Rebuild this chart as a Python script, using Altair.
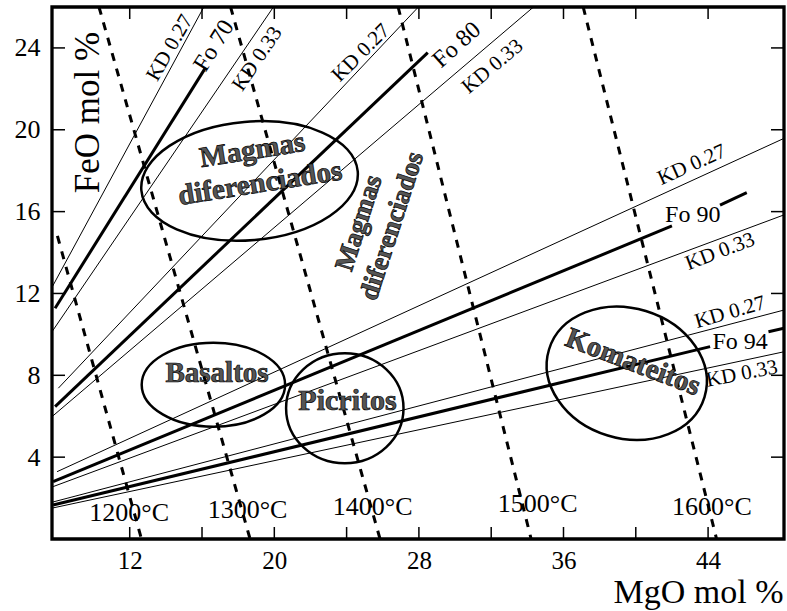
import altair as alt
import pandas as pd

FONT = "Liberation Serif"

# ---- axes ----
X_DOMAIN = [7.7, 48.2]
Y_DOMAIN = [0, 26]
X_LABELS = [12, 20, 28, 36, 44]
X_TICKS = [12, 16, 20, 24, 28, 32, 36, 40, 44]
Y_TICKS = [4, 8, 12, 16, 20, 24]

# ---- olivine lines: Fo isopleths (thick) and KD 0.27 / 0.33 bounds (thin) ----
ln_id = ["fo70_k27", "fo70", "fo70_k33", "fo80_k27", "fo80", "fo80_k33",
         "fo90_k27", "fo90_a", "fo90_b", "fo90_k33",
         "fo94_k27", "fo94_a", "fo94_b", "fo94_k33"]
ln_kind = ["thin", "thick", "thin", "thin", "thick", "thin",
           "thin", "thick", "thick", "thin",
           "thin", "thick", "thick", "thin"]
ln_x1 = [7.70, 7.87, 7.70, 8.05, 7.87, 7.70, 7.98, 7.76, 44.66, 7.76, 7.76, 7.76, 47.34, 7.76]
ln_y1 = [12.30, 11.28, 10.13, 7.37, 6.47, 5.98, 3.29, 2.80, 16.32, 2.56, 1.81, 1.66, 10.13, 1.52]
ln_x2 = [16.10, 16.17, 19.95, 27.97, 28.49, 34.34, 48.20, 42.00, 46.14, 48.20, 48.20, 44.11, 48.20, 48.20]
ln_y2 = [26.00, 23.00, 26.00, 26.00, 23.77, 26.00, 19.58, 15.30, 16.93, 15.84, 11.19, 9.40, 10.30, 9.15]

# ---- isotherms (dashed) ----
iso_id = ["1200", "1300", "1400", "1500", "1600"]
iso_x1 = [8.00, 10.30, 17.58, 26.85, 37.09]
iso_y1 = [14.81, 26.0, 26.0, 26.0, 26.0]
iso_x2 = [12.65, 18.66, 25.85, 34.21, 44.47]
iso_y2 = [0.0, 0.0, 0.0, 0.0, 0.0]

temp_text = ["1200°C", "1300°C", "1400°C", "1500°C", "1600°C"]
temp_x = [11.97, 18.52, 25.44, 34.57, 44.21]
temp_y = [1.27, 1.42, 1.55, 1.71, 1.58]

# ---- line labels ----
kd_text = ["KD 0.27", "KD 0.33", "KD 0.27", "KD 0.33", "KD 0.27", "KD 0.33", "KD 0.27", "KD 0.33"]
kd_x = [14.23, 19.07, 24.80, 32.08, 43.10, 44.67, 45.22, 45.87]
kd_y = [24.00, 23.46, 23.75, 23.08, 18.28, 14.04, 11.07, 8.06]
fo_text = ["Fo 70", "Fo 80", "Fo 90", "Fo 94"]
fo_x = [16.67, 30.10, 43.15, 45.77]
fo_y = [24.10, 24.14, 15.84, 9.64]

# ---- field labels ----
reg_text = ["Magmas", "diferenciados", "Magmas", "diferenciados", "Basaltos", "Picritos", "Komateitos"]
reg_x = [18.78, 19.21, 24.69, 26.52, 16.83, 24.05, 39.85]
reg_y = [19.01, 17.39, 15.44, 15.30, 8.10, 6.75, 8.65]

# ---- fields (ellipse centres) ----
ell_name = ["Magmas diferenciados", "Basaltos", "Picritos", "Komateitos"]
ell_x = [18.63, 16.63, 23.90, 39.50]
ell_y = [17.50, 7.54, 6.39, 8.10]

# styles (orientation / size, not data)
kd_angle = [300, 304, 315, 320, 336, 339, 344, 349]
fo_angle = [302, 318, 0, 0]
reg_angle = [351, 351, 288, 288, 0, 0, 21]
reg_size = [29, 29, 27, 27, 29, 30, 29]
ell_style = [(108.6, 59.2, 355), (71.7, 42.0, 0), (58.7, 55.0, 0), (81.3, 65.1, 17)]

# ---- tables ----
rows = []
for i, n in enumerate(ln_id):
    rows.append({"id": n, "kind": ln_kind[i], "o": 0, "x": ln_x1[i], "y": ln_y1[i]})
    rows.append({"id": n, "kind": ln_kind[i], "o": 1, "x": ln_x2[i], "y": ln_y2[i]})
lines_df = pd.DataFrame(rows)

rows = []
for i, n in enumerate(iso_id):
    rows.append({"id": n, "o": 0, "x": iso_x1[i], "y": iso_y1[i]})
    rows.append({"id": n, "o": 1, "x": iso_x2[i], "y": iso_y2[i]})
iso_df = pd.DataFrame(rows)

temp_df = pd.DataFrame({"t": temp_text, "x": temp_x, "y": temp_y})
kd_df = pd.DataFrame({"t": kd_text, "x": kd_x, "y": kd_y, "a": kd_angle})
fo_df = pd.DataFrame({"t": fo_text, "x": fo_x, "y": fo_y, "a": fo_angle})
reg_df = pd.DataFrame({"t": reg_text, "x": reg_x, "y": reg_y, "a": reg_angle, "s": reg_size})
xt_df = pd.DataFrame({"x": X_TICKS})
yt_df = pd.DataFrame({"y": Y_TICKS})

x_axis = alt.Axis(values=X_LABELS, title="MgO mol %", grid=False, ticks=False, domain=False,
                  labelFont=FONT, labelFontSize=25, labelColor="black", labelPadding=9,
                  labelFlush=False, labelOverlap=False,
                  titleFont=FONT, titleFontSize=34, titleFontWeight="normal", titleColor="black",
                  titleX=731, titleY=63, titleAlign="right", titleBaseline="alphabetic")
y_axis = alt.Axis(values=Y_TICKS, title="FeO mol %", grid=False, ticks=False, domain=False,
                  labelFont=FONT, labelFontSize=26, labelColor="black", labelPadding=12,
                  labelFlush=False, labelOverlap=False,
                  titleFont=FONT, titleFontSize=35, titleFontWeight="normal", titleColor="black",
                  titleAngle=270, titleX=46, titleY=105, titleAlign="center",
                  titleBaseline="alphabetic")

XS = alt.Scale(domain=X_DOMAIN, nice=False, zero=False)
YS = alt.Scale(domain=Y_DOMAIN, nice=False, zero=False)


def X(f="x"):
    return alt.X(f"{f}:Q", scale=XS, axis=x_axis)


def Y(f="y"):
    return alt.Y(f"{f}:Q", scale=YS, axis=y_axis)


thin = alt.Chart(lines_df[lines_df.kind == "thin"]).mark_line(
    color="black", strokeWidth=1, clip=True).encode(x=X(), y=Y(), detail="id:N", order="o:Q")
thick = alt.Chart(lines_df[lines_df.kind == "thick"]).mark_line(
    color="black", strokeWidth=3, clip=True).encode(x=X(), y=Y(), detail="id:N", order="o:Q")
iso = alt.Chart(iso_df).mark_line(
    color="black", strokeWidth=3, strokeDash=[8, 8], clip=True).encode(
    x=X(), y=Y(), detail="id:N", order="o:Q")

W, H, TL = 732, 532, 12
tick_bottom = alt.Chart(xt_df).mark_rule(color="black", strokeWidth=1.5).encode(
    x=X(), y=alt.value(H), y2=alt.value(H - TL))
tick_top = alt.Chart(xt_df).mark_rule(color="black", strokeWidth=1.5).encode(
    x=X(), y=alt.value(0), y2=alt.value(TL))
tick_left = alt.Chart(yt_df).mark_rule(color="black", strokeWidth=1.5).encode(
    y=Y(), x=alt.value(0), x2=alt.value(TL + 1))
tick_right = alt.Chart(yt_df).mark_rule(color="black", strokeWidth=1.5).encode(
    y=Y(), x=alt.value(W), x2=alt.value(W - TL - 1))

ellipses = []
for i, n in enumerate(ell_name):
    a, b, ang = ell_style[i]
    r = b / a
    path = f"M -1 0 A 1 {r:.4f} 0 1 1 1 0 A 1 {r:.4f} 0 1 1 -1 0 Z"
    ellipses.append(
        alt.Chart(pd.DataFrame({"x": [ell_x[i]], "y": [ell_y[i]]})).mark_point(
            shape=path, size=(2 * a) ** 2, angle=ang, filled=False, color="black",
            strokeWidth=2.5, opacity=1).encode(x=X(), y=Y()))

temp_lbl = alt.Chart(temp_df).mark_text(
    font=FONT, fontSize=26, color="black", align="center", baseline="middle").encode(
    x=X(), y=Y(), text="t:N")
kd_lbl = alt.Chart(kd_df).mark_text(
    font=FONT, fontSize=21, color="black", align="center", baseline="middle").encode(
    x=X(), y=Y(), text="t:N", angle=alt.Angle("a:Q", scale=None))
fo_lbl = alt.Chart(fo_df).mark_text(
    font=FONT, fontSize=24, color="black", align="center", baseline="middle").encode(
    x=X(), y=Y(), text="t:N", angle=alt.Angle("a:Q", scale=None))
reg_lbl = alt.Chart(reg_df).mark_text(
    font=FONT, fontWeight="bold", fill="#555555", stroke="black", strokeWidth=0.7,
    align="center", baseline="middle").encode(
    x=X(), y=Y(), text="t:N", angle=alt.Angle("a:Q", scale=None),
    size=alt.Size("s:Q", scale=None))

chart = alt.layer(
    thin, thick, iso, tick_bottom, tick_top, tick_left, tick_right,
    *ellipses, temp_lbl, kd_lbl, fo_lbl, reg_lbl
).properties(
    width=W, height=H,
    padding={"left": 52, "top": 7, "right": 3, "bottom": 72},
    autosize=alt.AutoSizeParams(type="none"),
    background="white",
).configure_view(stroke="black", strokeWidth=3.3)

chart.save("out.html", embed_options={"renderer": "svg", "actions": False})
